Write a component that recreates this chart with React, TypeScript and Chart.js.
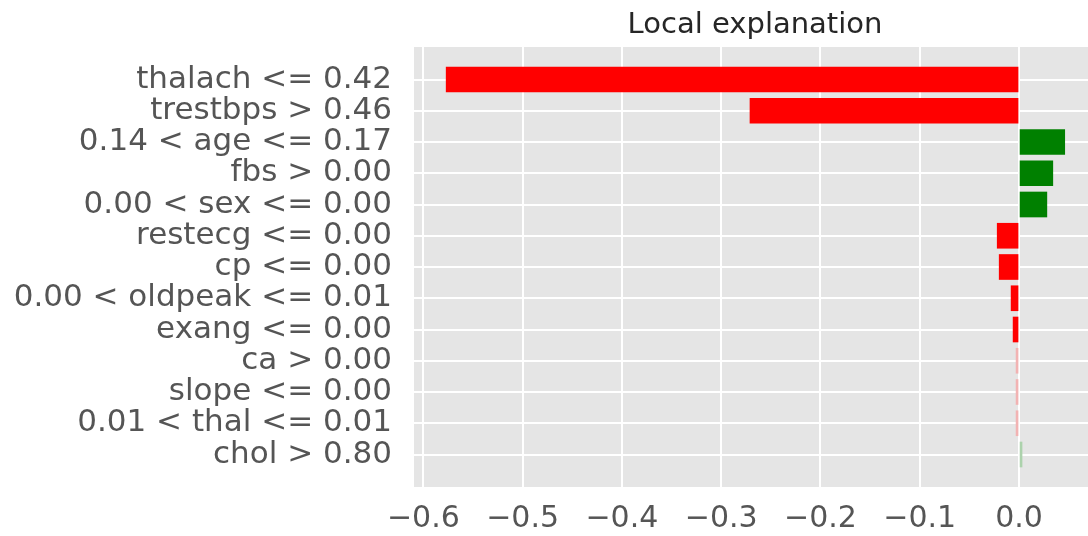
import React, { useEffect, useRef } from "react";
import { Chart, registerables } from "chart.js";

Chart.register(...registerables);

const TITLE = "Local explanation";
const featureLabels = [
  "thalach <= 0.42",
  "trestbps > 0.46",
  "0.14 < age <= 0.17",
  "fbs > 0.00",
  "0.00 < sex <= 0.00",
  "restecg <= 0.00",
  "cp <= 0.00",
  "0.00 < oldpeak <= 0.01",
  "exang <= 0.00",
  "ca > 0.00",
  "slope <= 0.00",
  "0.01 < thal <= 0.01",
  "chol > 0.80",
];
const weights = [
  -0.577, -0.271, 0.046, 0.034, 0.028, -0.022, -0.02, -0.008, -0.006, -0.003,
  -0.003, -0.003, 0.003,
];
const barColors = [
  "#ff0000", "#ff0000", "#008000", "#008000", "#008000", "#ff0000", "#ff0000",
  "#ff0000", "#ff0000", "#f2b3b3", "#f2b3b3", "#f2b3b3", "#acd2ac",
];
const xTicks = [-0.6, -0.5, -0.4, -0.3, -0.2, -0.1, 0.0];

const X_MIN = -0.6094;
const X_MAX = 0.0775;
const Y_MIN = -1.04;
const Y_MAX = 13.04;

const FONT = "'DejaVu Sans', sans-serif";

export default function App() {
  const ref = useRef<HTMLCanvasElement | null>(null);

  useEffect(() => {
    document.body.style.margin = "0";
    const canvas = ref.current;
    if (!canvas) return;

    const bgPlugin = {
      id: "bg",
      beforeDraw(chart: any) {
        const { ctx, chartArea } = chart;
        ctx.save();
        ctx.fillStyle = "#e5e5e5";
        ctx.fillRect(
          chartArea.left,
          chartArea.top,
          chartArea.right - chartArea.left,
          chartArea.bottom - chartArea.top
        );
        ctx.restore();
      },
      afterDraw(chart: any) {
        const { ctx, chartArea } = chart;
        ctx.save();
        ctx.fillStyle = "#262626";
        ctx.font = `29px ${FONT}`;
        ctx.textAlign = "center";
        ctx.textBaseline = "alphabetic";
        ctx.fillText(TITLE, (chartArea.left + chartArea.right) / 2, 33);
        ctx.restore();
      },
    };

    const chart = new Chart(canvas, {
      type: "bar",
      data: {
        datasets: [
          {
            data: weights.map((w, i) => ({ x: w, y: i })),
            backgroundColor: barColors,
            borderWidth: 0,
            barThickness: 25,
          },
        ],
      },
      options: {
        indexAxis: "y",
        animation: false,
        responsive: false,
        maintainAspectRatio: false,
        layout: { padding: { top: 47, left: 0, right: 0, bottom: 0 } },
        plugins: {
          legend: { display: false },
          tooltip: { enabled: false },
          title: { display: false },
        },
        scales: {
          x: {
            type: "linear",
            min: X_MIN,
            max: X_MAX,
            offset: false,
            border: { display: false },
            grid: { color: "#ffffff", lineWidth: 2, drawTicks: false, offset: false },
            afterBuildTicks: (scale: any) => {
              scale.ticks = xTicks.map((v) => ({ value: v }));
            },
            afterFit: (scale: any) => {
              scale.height = 49;
            },
            ticks: {
              autoSkip: false,
              maxRotation: 0,
              color: "#555555",
              padding: 14,
              font: { family: FONT, size: 30 },
              callback: (v: any) => {
                const n = Number(v);
                const s = Math.abs(n).toFixed(1);
                return n < -1e-9 ? "\u2212" + s : s;
              },
            },
          },
          y: {
            type: "linear",
            reverse: true,
            min: Y_MIN,
            max: Y_MAX,
            offset: false,
            border: { display: false },
            grid: { color: "#ffffff", lineWidth: 2, drawTicks: false, offset: false },
            afterBuildTicks: (scale: any) => {
              scale.ticks = featureLabels.map((_, i) => ({ value: i }));
            },
            afterFit: (scale: any) => {
              scale.width = 414;
            },
            ticks: {
              autoSkip: false,
              color: "#555555",
              padding: 22,
              font: { family: FONT, size: 31 },
              callback: (v: any) => featureLabels[Math.round(Number(v))] ?? "",
            },
          },
        },
      },
      plugins: [bgPlugin],
    } as any);

    return () => chart.destroy();
  }, []);

  return (
    <div style={{ width: 1088, height: 536, overflow: "hidden" }}>
      <canvas ref={ref} width={1096} height={536} style={{ display: "block" }} />
    </div>
  );
}
